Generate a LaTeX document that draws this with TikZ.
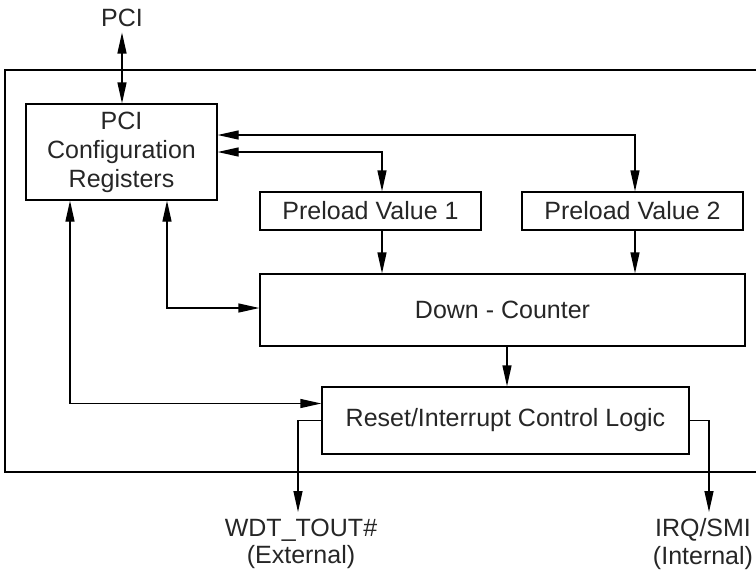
\documentclass[tikz,border=0pt]{standalone}
\usepackage{fontspec}
\setmainfont{Liberation Sans}
\usetikzlibrary{arrows.meta}
\begin{document}
\begin{tikzpicture}[x=1pt,y=-1pt,
  line width=1.3pt,
  >={Triangle[length=21pt,width=9pt]},
  box/.style={draw, line width=1.3pt, inner sep=0pt, align=center,
    font=\fontsize{25}{29}\selectfont, text=black!85},
  lbl/.style={inner sep=0pt, align=center, font=\fontsize{25}{27.5}\selectfont, text=black!85},
  conn/.style={line width=1.3pt}]
\useasboundingbox (0,0) rectangle (756,574);
% outer frame (cut at the right edge)
\draw[line width=1.3pt] (756,70) -- (5,70) -- (5,472) -- (756,472);
% nodes
\node[lbl] (pci) at (122,18) {PCI};
\node[box, minimum width=191pt, minimum height=96pt] (cfg) at (121.5,152) {PCI\\Configuration\\Registers};
\node[box, minimum width=221pt, minimum height=38pt] (pv1) at (370.5,211) {Preload Value 1};
\node[box, minimum width=221pt, minimum height=38pt] (pv2) at (632.5,211) {Preload Value 2};
\node[box, minimum width=485pt, minimum height=72pt] (dc) at (502.5,310) {Down - Counter};
\node[box, minimum width=367pt, minimum height=67pt] (rst) at (505.5,420.5) {Reset/Interrupt Control Logic};
\node[lbl] (wdt) at (301,544) {WDT\_TOUT\#\\(External)};
\node[lbl] (irq) at (703,544) {IRQ/SMI\\(Internal)};
\coordinate (wdtend) at (298,512);
\coordinate (irqend) at (709,512);
% connectors
\draw[conn,<->] ([yshift=-5pt]pci.south) -- (pci.south |- cfg.north);
\draw[conn,<->] ([yshift=17pt]cfg.east) -| ([xshift=2.5pt]pv2.north);
\draw[conn,<->] (cfg.east) -| ([xshift=11.5pt]pv1.north);
\draw[conn,->] ([xshift=11.5pt]pv1.south) -- ([xshift=11.5pt]pv1.south |- dc.north);
\draw[conn,->] ([xshift=2.5pt]pv2.south) -- ([xshift=2.5pt]pv2.south |- dc.north);
\draw[conn,<->] ([xshift=45.5pt]cfg.south) |- ([yshift=2pt]dc.west);
\draw[conn,<->] ([xshift=-51.5pt]cfg.south) |- ([yshift=17pt]rst.west);
\draw[conn,->] ([xshift=4.5pt]dc.south) -- ([xshift=4.5pt]dc.south |- rst.north);
\draw[conn,->] (rst.west) -| (wdtend);
\draw[conn,->] (rst.east) -| (irqend);
\end{tikzpicture}
\end{document}
